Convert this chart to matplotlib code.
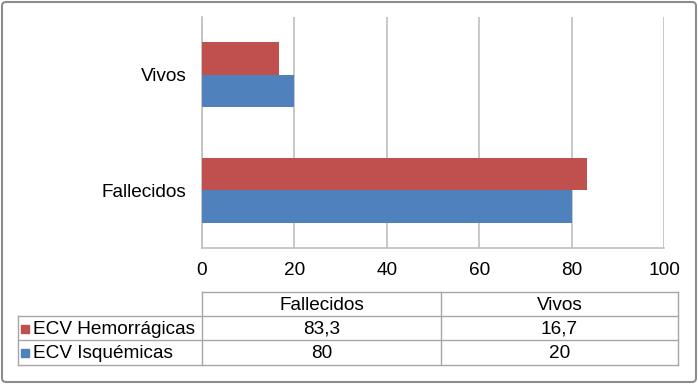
import numpy as np
import matplotlib
matplotlib.use("Agg")
from matplotlib import pyplot as plt
from matplotlib.patches import FancyBboxPatch, Rectangle

# data
categories = ["Fallecidos", "Vivos"]
series_names = ["ECV Hemorrágicas", "ECV Isquémicas"]
hemorragicas = [83.3, 16.7]
isquemicas = [80, 20]
x_ticks = [0, 20, 40, 60, 80, 100]

red = "#C0504D"
blue = "#4F81BD"
grid_c = "#BFBFBF"

plt.rcParams["font.family"] = ["Liberation Sans", "DejaVu Sans"]
plt.rcParams["font.size"] = 13.7

W, H = 698, 384
fig = plt.figure(figsize=(W / 100, H / 100), dpi=100)

# outer frame
frame = fig.add_axes([0, 0, 1, 1])
frame.set_xlim(0, W)
frame.set_ylim(H, 0)
frame.axis("off")
frame.add_patch(FancyBboxPatch((2, 2), W - 4, H - 4, boxstyle="round,pad=0,rounding_size=4",
                               fill=False, edgecolor="#8C8C8C", linewidth=1.5))

# bar chart
ax = fig.add_axes([202 / W, (H - 248) / H, 462 / W, 231 / H])
y = np.arange(len(categories))
h = 0.28
ax.barh(y + h / 2, hemorragicas, height=h, color=red, label=series_names[0], zorder=3)
ax.barh(y - h / 2, isquemicas, height=h, color=blue, label=series_names[1], zorder=3)
ax.set_xlim(0, 100)
ax.set_ylim(-0.5, 1.5)
ax.set_xticks(x_ticks)
ax.set_yticks(y)
ax.set_yticklabels(categories)
ax.grid(axis="x", color=grid_c, linewidth=1.2, zorder=0)
for s in ["top", "right"]:
    ax.spines[s].set_visible(False)
for s in ["left", "bottom"]:
    ax.spines[s].set_color(grid_c)
    ax.spines[s].set_linewidth(1.2)
ax.tick_params(axis="both", length=0, colors="black")
ax.tick_params(axis="x", pad=10)
ax.tick_params(axis="y", pad=11)

# data table below the chart
xs = [18, 202, 441, 678]
ys = [292, 316, 340, 365]
lc = "#A6A6A6"
# header row lines (no label cell)
frame.plot([xs[1], xs[3]], [ys[0], ys[0]], color=lc, lw=1)
for yy in ys[1:]:
    frame.plot([xs[0], xs[3]], [yy, yy], color=lc, lw=1)
for xx in xs[1:]:
    frame.plot([xx, xx], [ys[0], ys[3]], color=lc, lw=1)
frame.plot([xs[0], xs[0]], [ys[1], ys[3]], color=lc, lw=1)

for j, cat in enumerate(categories):
    frame.text((xs[j + 1] + xs[j + 2]) / 2, (ys[0] + ys[1]) / 2 + 1, cat,
               ha="center", va="center")

rows = [(series_names[0], hemorragicas, red), (series_names[1], isquemicas, blue)]
for i, (name, vals, col) in enumerate(rows):
    yc = (ys[i + 1] + ys[i + 2]) / 2 + 1
    frame.add_patch(Rectangle((21, yc - 4.5), 8, 8, color=col))
    frame.text(33, yc, name, ha="left", va="center")
    for j, v in enumerate(vals):
        txt = ("%g" % v).replace(".", ",")
        frame.text((xs[j + 1] + xs[j + 2]) / 2, yc, txt, ha="center", va="center")

fig.savefig("out.png", dpi=100)
